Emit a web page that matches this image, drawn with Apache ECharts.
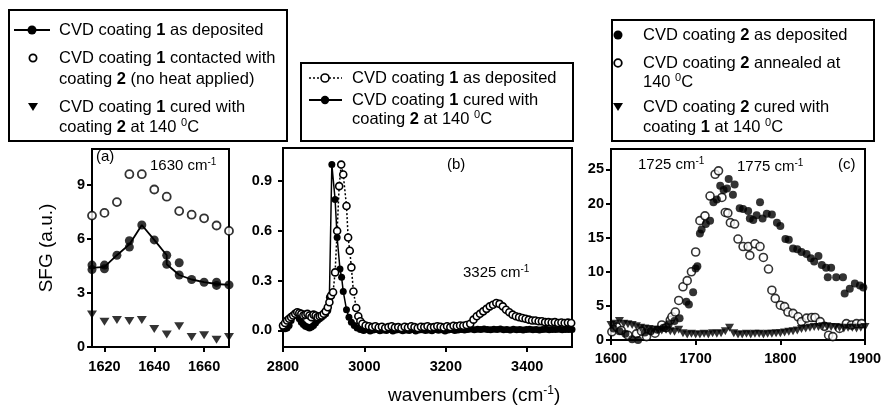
<!DOCTYPE html>
<html>
<head>
<meta charset="utf-8">
<script src="https://cdn.jsdelivr.net/npm/echarts@6.0.0/dist/echarts.min.js"></script>
<style>
  html, body { margin: 0; padding: 0; background: #fff; }
  #chart { width: 889px; height: 408px; }
</style>
</head>
<body>
<div id="chart"></div>
<script>
// ---------- panel (a): 1630 cm-1 band ----------
const aX        = [1615, 1620, 1625, 1630, 1635, 1640, 1645, 1650, 1655, 1660, 1665, 1670];
const aContact  = [7.3, 7.45, 8.05, 9.6, 9.6, 8.75, 8.35, 7.55, 7.35, 7.15, 6.75, 6.45];
const aCured    = [1.8, 1.4, 1.5, 1.45, 1.5, 1.0, 0.7, 1.15, 0.55, 0.65, 0.4, 0.55];
// as-deposited replicates and the connecting line
const aDepPtsX  = [1615, 1615, 1620, 1620, 1625, 1630, 1630, 1635, 1640, 1645, 1645, 1650, 1650, 1655, 1660, 1665, 1665, 1670];
const aDepPtsY  = [4.3, 4.55, 4.35, 4.55, 5.1, 5.55, 5.9, 6.78, 5.95, 5.1, 4.6, 4.68, 4.0, 3.75, 3.6, 3.42, 3.6, 3.45];
const aDepLineX = [1615, 1620, 1625, 1630, 1635, 1640, 1645, 1645, 1650, 1655, 1660, 1665, 1670];
const aDepLineY = [4.4, 4.45, 5.1, 5.7, 6.78, 5.95, 5.1, 4.6, 4.0, 3.75, 3.6, 3.5, 3.45];
const aXTicks = [1620, 1640, 1660];
const aYTicks = [0, 3, 6, 9];

// ---------- panel (b): C-H / N-H stretch region ----------
const bOpenX = [2800, 2805, 2810, 2815, 2820, 2825, 2830, 2835, 2840, 2845, 2850, 2855, 2860, 2865, 2870, 2875, 2880, 2885, 2890, 2895,
  2900, 2905, 2910, 2914, 2918, 2923, 2928, 2933, 2938, 2943, 2948, 2956, 2960, 2964, 2968, 2973, 2980, 2985, 2990, 2995,
  3003, 3011, 3019, 3027, 3035, 3043, 3051, 3059, 3067, 3075, 3083, 3091, 3099, 3107, 3115, 3123, 3131, 3139, 3147, 3155,
  3163, 3171, 3179, 3187, 3195, 3203, 3211, 3219, 3227, 3235, 3243, 3251, 3260, 3268, 3276, 3284, 3292, 3300, 3308, 3316,
  3324, 3332, 3340, 3348, 3356, 3364, 3372, 3380, 3388, 3396, 3404, 3412, 3420, 3428, 3436, 3444, 3452, 3460, 3468, 3476,
  3484, 3492, 3500, 3508];
const bOpenY = [0.03, 0.045, 0.06, 0.07, 0.08, 0.09, 0.1, 0.11, 0.105, 0.1, 0.09, 0.095, 0.1, 0.09, 0.08, 0.095, 0.09, 0.08, 0.085, 0.09,
  0.1, 0.115, 0.14, 0.17, 0.21, 0.23, 0.35, 0.6, 0.87, 1.0, 0.94, 0.75, 0.56, 0.48, 0.38, 0.235, 0.135, 0.085, 0.055, 0.04,
  0.03, 0.025, 0.02, 0.025, 0.018, 0.022, 0.015, 0.02, 0.025, 0.018, 0.02, 0.015, 0.022, 0.018, 0.025, 0.02, 0.015, 0.022, 0.02, 0.025,
  0.018, 0.02, 0.025, 0.022, 0.018, 0.025, 0.02, 0.028, 0.025, 0.03, 0.028, 0.033, 0.04, 0.065, 0.085, 0.1, 0.115, 0.13, 0.145, 0.155,
  0.165, 0.16, 0.145, 0.125, 0.11, 0.095, 0.085, 0.08, 0.075, 0.07, 0.065, 0.06, 0.06, 0.055, 0.055, 0.05, 0.05, 0.048, 0.05, 0.045,
  0.048, 0.045, 0.047, 0.045];
const bFillX = [2800, 2805, 2810, 2815, 2820, 2825, 2830, 2835, 2840, 2845, 2850, 2855, 2860, 2865, 2870, 2875, 2880, 2885, 2890, 2895,
  2900, 2905, 2910, 2914, 2920, 2928, 2933, 2940, 2944, 2948, 2956, 2962, 2968, 2975, 2982, 2990,
  2998, 3006, 3014, 3022, 3030, 3038, 3046, 3054, 3062, 3070, 3078, 3086, 3094, 3102, 3110, 3118, 3126, 3134, 3142, 3150,
  3158, 3166, 3174, 3182, 3190, 3198, 3206, 3214, 3222, 3230, 3238, 3246, 3254, 3262, 3270, 3278, 3286, 3294, 3302, 3310,
  3318, 3326, 3334, 3342, 3350, 3358, 3366, 3374, 3382, 3390, 3398, 3406, 3414, 3422, 3430, 3438, 3446, 3454, 3462, 3470,
  3478, 3486, 3494, 3502, 3510];
const bFillY = [0.02, 0.01, 0.015, 0.03, 0.06, 0.09, 0.105, 0.095, 0.07, 0.05, 0.035, 0.025, 0.02, 0.015, 0.02, 0.03, 0.045, 0.06, 0.07, 0.08,
  0.09, 0.1, 0.12, 0.2, 1.0, 0.79, 0.56, 0.37, 0.32, 0.235, 0.125, 0.08, 0.05, 0.03, 0.015, 0.005,
  0.0, 0.005, -0.003, 0.002, 0.006, -0.002, 0.003, 0.0, 0.005, -0.004, 0.002, 0.004, -0.002, 0.003, 0.0, 0.005, -0.003, 0.002, 0.004, 0.0,
  0.003, -0.002, 0.005, 0.001, 0.004, -0.003, 0.002, 0.005, 0.0, 0.003, 0.006, 0.002, 0.005, 0.008, 0.004, 0.007, 0.005, 0.008, 0.006, 0.004,
  0.007, 0.005, 0.008, 0.004, 0.006, 0.003, 0.007, 0.004, 0.006, 0.003, 0.005, 0.007, 0.004, 0.006, 0.003, 0.005, 0.007, 0.004, 0.006, 0.005,
  0.007, 0.004, 0.006, 0.005, 0.006];
const bXTicks = [2800, 3000, 3200, 3400];
const bYTicks = [0, 0.3, 0.6, 0.9];

// ---------- panel (c): carbonyl region ----------
const cDepX = [1603, 1610, 1617, 1625, 1632, 1640, 1647, 1655, 1662, 1668, 1675, 1681, 1689, 1692, 1697, 1700, 1702, 1705, 1707, 1712,
  1717, 1721, 1725, 1729, 1733, 1737, 1739, 1744, 1746, 1752, 1756, 1762, 1764, 1768, 1772, 1776, 1779, 1784, 1790, 1796,
  1800, 1806, 1810, 1815, 1820, 1825, 1831, 1836, 1840, 1845, 1849, 1854, 1860, 1856, 1866, 1874, 1876, 1882, 1888, 1894, 1898];
const cDepY = [1.7, 1.3, 0.9, 0.1, 0.0, 1.1, 1.3, 1.5, 1.8, 2.3, 2.8, 3.2, 5.6, 5.2, 7.0, 10.5, 10.8, 15.6, 16.2, 17.0,
  17.5, 20.2, 20.6, 22.6, 22.0, 22.2, 23.6, 21.3, 22.8, 19.3, 19.2, 18.9, 17.8, 17.6, 18.3, 20.2, 17.8, 18.5, 18.4, 17.2,
  16.7, 14.8, 14.7, 13.4, 13.3, 12.9, 12.6, 12.0, 11.5, 12.3, 11.0, 10.6, 10.6, 9.2, 9.2, 9.2, 6.8, 7.5, 8.3, 8.0, 7.7];
const cAnnX = [1601, 1607, 1612, 1620, 1630, 1636, 1642, 1652, 1660, 1665, 1670, 1672, 1676, 1680, 1685, 1690, 1695, 1700, 1705, 1711,
  1717, 1723, 1727, 1731, 1735, 1738, 1741, 1746, 1750, 1756, 1762, 1764, 1770, 1776, 1780, 1786, 1790, 1794, 1800, 1805,
  1809, 1815, 1821, 1825, 1831, 1837, 1841, 1847, 1852, 1857, 1862, 1870, 1878, 1884, 1890, 1896];
const cAnnY = [1.2, 1.9, 1.4, 0.7, 0.9, 1.3, 0.5, 1.0, 2.2, 1.8, 2.9, 3.4, 4.1, 5.8, 7.8, 8.7, 10.0, 12.9, 17.5, 18.2,
  21.1, 24.3, 24.8, 20.9, 18.7, 18.6, 17.2, 17.0, 14.8, 13.7, 13.7, 12.4, 14.1, 13.7, 12.1, 10.4, 7.3, 6.1, 5.1, 4.9,
  4.1, 3.9, 3.4, 2.7, 3.2, 3.3, 3.3, 2.7, 2.0, 0.7, 0.5, 1.7, 2.4, 2.2, 2.4, 2.4];
const cCurX = [1600, 1605, 1610, 1615, 1620, 1625, 1630, 1635, 1640, 1645, 1650, 1655, 1660, 1665, 1670, 1675, 1680, 1685, 1690, 1695,
  1700, 1705, 1710, 1715, 1720, 1725, 1730, 1735, 1740, 1745, 1750, 1755, 1760, 1765, 1770, 1775, 1780, 1785, 1790, 1795,
  1800, 1805, 1810, 1815, 1820, 1825, 1830, 1835, 1840, 1845, 1850, 1855, 1860, 1865, 1870, 1875, 1880, 1885, 1890, 1895, 1900];
const cCurY = [2.2, 2.4, 2.8, 2.4, 2.3, 2.2, 2.0, 1.8, 1.7, 1.6, 1.5, 1.5, 1.4, 1.5, 1.3, 1.2, 1.5, 1.0, 0.8, 0.9,
  0.8, 0.8, 0.9, 0.8, 1.0, 0.9, 1.0, 1.3, 1.8, 1.0, 0.8, 0.8, 0.9, 0.8, 0.9, 0.9, 0.8, 0.9, 0.9, 1.0,
  1.0, 1.1, 1.2, 1.3, 1.4, 1.6, 1.7, 1.8, 1.9, 1.9, 2.0, 2.0, 1.9, 1.9, 1.8, 1.7, 1.8, 1.8, 1.7, 1.8, 1.9];
const cXTicks = [1600, 1700, 1800, 1900];
const cYTicks = [0, 5, 10, 15, 20, 25];

// ---------- legend and annotation text ----------
const legendA = [
  '{n|CVD coating }{b|1}{n| as deposited}',
  '{n|CVD coating }{b|1}{n| contacted with}',
  '{n|coating }{b|2}{n| (no heat applied)}',
  '{n|CVD coating }{b|1}{n| cured with}',
  '{n|coating }{b|2}{n| at 140 }{s|0}{n|C}'
];
const legendB = [
  '{n|CVD coating }{b|1}{n| as deposited}',
  '{n|CVD coating }{b|1}{n| cured with}',
  '{n|coating }{b|2}{n| at 140 }{s|0}{n|C}'
];
const legendC = [
  '{n|CVD coating }{b|2}{n| as deposited}',
  '{n|CVD coating }{b|2}{n| annealed at}',
  '{n|140 }{s|0}{n|C}',
  '{n|CVD coating }{b|2}{n| cured with}',
  '{n|coating }{b|1}{n| at 140 }{s|0}{n|C}'
];

const FONT = '"Liberation Sans", Arial, Helvetica, sans-serif';
const zip = (xs, ys) => xs.map((x, i) => [x, ys[i]]);

const richLegend = {
  n: { fontSize: 16.5, fontFamily: FONT, color: '#000', lineHeight: 20 },
  b: { fontSize: 16.5, fontFamily: FONT, color: '#000', fontWeight: 'bold', lineHeight: 20 },
  s: { fontSize: 11, fontFamily: FONT, color: '#000', lineHeight: 12, verticalAlign: 'top' }
};
const richNote = {
  t: { fontSize: 15, fontFamily: FONT, color: '#000', lineHeight: 18 },
  s: { fontSize: 10, fontFamily: FONT, color: '#000', lineHeight: 10, verticalAlign: 'top' }
};

function textEl(x, y, text, rich) {
  return {
    type: 'text', x: x, y: y, silent: true,
    style: { text: text, rich: rich, align: 'left', verticalAlign: 'middle' }
  };
}

const tickFont = { color: '#000', fontSize: 14.5, fontFamily: FONT, fontWeight: 'bold' };

function xAxisOf(grid, min, max, ticks, margin) {
  return {
    type: 'value', gridIndex: grid, min: min, max: max,
    axisLine: { onZero: false, lineStyle: { color: '#000', width: 2 } },
    axisTick: { customValues: ticks, length: 5, lineStyle: { color: '#000', width: 2 } },
    axisLabel: Object.assign({ customValues: ticks, margin: margin, formatter: v => String(v) }, tickFont),
    splitLine: { show: false }
  };
}
function yAxisOf(grid, min, max, ticks, margin, fmt) {
  return {
    type: 'value', gridIndex: grid, min: min, max: max,
    axisLine: { onZero: false, lineStyle: { color: '#000', width: 2 } },
    axisTick: { customValues: ticks, length: 5, lineStyle: { color: '#000', width: 2 } },
    axisLabel: Object.assign({ customValues: ticks, margin: margin, formatter: fmt }, tickFont),
    splitLine: { show: false }
  };
}

const openStyle = { color: '#fff', borderColor: '#000', borderWidth: 1.8 };
const fillStyle = { color: '#000' };

const option = {
  animation: false,
  backgroundColor: '#fff',
  grid: [
    { left: 92, top: 149, width: 137, height: 198, show: true, borderColor: '#000', borderWidth: 2, backgroundColor: 'transparent' },
    { left: 283, top: 148, width: 289, height: 199, show: true, borderColor: '#000', borderWidth: 2, backgroundColor: 'transparent' },
    { left: 611, top: 149, width: 254, height: 191, show: true, borderColor: '#000', borderWidth: 2, backgroundColor: 'transparent' }
  ],
  xAxis: [
    xAxisOf(0, 1615, 1670, aXTicks, 12),
    xAxisOf(1, 2800, 3510, bXTicks, 12),
    xAxisOf(2, 1600, 1900, cXTicks, 11)
  ],
  yAxis: [
    Object.assign(yAxisOf(0, 0, 11, aYTicks, 7, v => String(v)), {
      name: 'SFG (a.u.)', nameLocation: 'middle', nameRotate: 90, nameGap: 36,
      nameTextStyle: { fontSize: 19, fontFamily: FONT, color: '#000' }
    }),
    yAxisOf(1, -0.1, 1.1, bYTicks, 11, v => v.toFixed(1)),
    yAxisOf(2, 0, 28, cYTicks, 7, v => String(v))
  ],
  series: [
    // (a)
    { type: 'line', xAxisIndex: 0, yAxisIndex: 0, data: zip(aDepLineX, aDepLineY), showSymbol: false,
      lineStyle: { color: '#000', width: 1.8 }, silent: true, z: 2 },
    { type: 'scatter', xAxisIndex: 0, yAxisIndex: 0, data: zip(aDepPtsX, aDepPtsY), symbol: 'circle', symbolSize: 9,
      itemStyle: fillStyle, z: 3 },
    { type: 'scatter', xAxisIndex: 0, yAxisIndex: 0, data: zip(aX, aContact), symbol: 'circle', symbolSize: 8,
      itemStyle: openStyle, z: 3 },
    { type: 'scatter', xAxisIndex: 0, yAxisIndex: 0, data: zip(aX, aCured), symbol: 'triangle', symbolRotate: 180,
      symbolSize: [10, 8], itemStyle: fillStyle, z: 3 },
    // (b)
    { type: 'line', xAxisIndex: 1, yAxisIndex: 1, data: zip(bFillX, bFillY), symbol: 'circle', symbolSize: 7,
      showSymbol: true, itemStyle: fillStyle, lineStyle: { color: '#000', width: 1.5 }, z: 2 },
    { type: 'line', xAxisIndex: 1, yAxisIndex: 1, data: zip(bOpenX, bOpenY), symbol: 'circle', symbolSize: 7,
      showSymbol: true, itemStyle: { color: '#fff', borderColor: '#000', borderWidth: 1.6 },
      lineStyle: { color: '#000', width: 1.5, type: [2, 2] }, z: 3 },
    // (c)
    { type: 'scatter', xAxisIndex: 2, yAxisIndex: 2, data: zip(cAnnX, cAnnY), symbol: 'circle', symbolSize: 8,
      itemStyle: { color: '#fff', borderColor: '#000', borderWidth: 1.6 }, z: 2 },
    { type: 'scatter', xAxisIndex: 2, yAxisIndex: 2, data: zip(cDepX, cDepY), symbol: 'circle', symbolSize: 8,
      itemStyle: fillStyle, z: 3 },
    { type: 'scatter', xAxisIndex: 2, yAxisIndex: 2, data: zip(cCurX, cCurY), symbol: 'triangle', symbolRotate: 180,
      symbolSize: [9, 8], itemStyle: fillStyle, z: 4 }
  ],
  graphic: []
};

// legend boxes
const boxStyle = { fill: 'none', stroke: '#000', lineWidth: 2 };
const g = option.graphic;
g.push({ type: 'rect', shape: { x: 9, y: 10, width: 278, height: 131 }, style: boxStyle, silent: true });
g.push({ type: 'rect', shape: { x: 301, y: 63, width: 272, height: 78 }, style: boxStyle, silent: true });
g.push({ type: 'rect', shape: { x: 612, y: 20, width: 262, height: 121 }, style: boxStyle, silent: true });

// legend (a) keys
g.push({ type: 'line', shape: { x1: 14, y1: 30, x2: 50, y2: 30 }, style: { stroke: '#000', lineWidth: 2 }, silent: true });
g.push({ type: 'circle', shape: { cx: 32, cy: 30, r: 4.5 }, style: { fill: '#000' }, silent: true });
g.push({ type: 'circle', shape: { cx: 33, cy: 58, r: 3.6 }, style: { fill: '#fff', stroke: '#000', lineWidth: 1.8 }, silent: true });
g.push({ type: 'polygon', shape: { points: [[28, 103], [38, 103], [33, 111]] }, style: { fill: '#000' }, silent: true });
[30, 58, 79, 107, 127].forEach((y, i) => g.push(textEl(59, y, legendA[i], richLegend)));

// legend (b) keys
g.push({ type: 'line', shape: { x1: 309, y1: 78, x2: 342, y2: 78 }, style: { stroke: '#000', lineWidth: 1.5, lineDash: [2, 2] }, silent: true });
g.push({ type: 'circle', shape: { cx: 325, cy: 78, r: 4 }, style: { fill: '#fff', stroke: '#000', lineWidth: 1.6 }, silent: true });
g.push({ type: 'line', shape: { x1: 309, y1: 100, x2: 342, y2: 100 }, style: { stroke: '#000', lineWidth: 2 }, silent: true });
g.push({ type: 'circle', shape: { cx: 325, cy: 100, r: 4.2 }, style: { fill: '#000' }, silent: true });
[78, 100, 119].forEach((y, i) => g.push(textEl(352, y, legendB[i], richLegend)));

// legend (c) keys
g.push({ type: 'circle', shape: { cx: 618, cy: 35, r: 4.5 }, style: { fill: '#000' }, silent: true });
g.push({ type: 'circle', shape: { cx: 618, cy: 63, r: 3.8 }, style: { fill: '#fff', stroke: '#000', lineWidth: 1.8 }, silent: true });
g.push({ type: 'polygon', shape: { points: [[613, 103], [623, 103], [618, 111]] }, style: { fill: '#000' }, silent: true });
[35, 63, 82, 107, 127].forEach((y, i) => g.push(textEl(643, y, legendC[i], richLegend)));

// panel labels and band annotations
g.push(textEl(96, 157, '{t|(a)}', richNote));
g.push(textEl(150, 166, '{t|1630 cm}{s|-1}', richNote));
g.push(textEl(447, 165, '{t|(b)}', richNote));
g.push(textEl(463, 273, '{t|3325 cm}{s|-1}', richNote));
g.push(textEl(638, 165, '{t|1725 cm}{s|-1}', richNote));
g.push(textEl(737, 167, '{t|1775 cm}{s|-1}', richNote));
g.push(textEl(838, 165, '{t|(c)}', richNote));

// shared x-axis title
g.push(textEl(388, 396, '{t|wavenumbers (cm}{s|-1}{t|)}', {
  t: { fontSize: 19, fontFamily: FONT, color: '#000', lineHeight: 22 },
  s: { fontSize: 12, fontFamily: FONT, color: '#000', lineHeight: 12, verticalAlign: 'top' }
}));

const chart = echarts.init(document.getElementById('chart'), null, { renderer: 'canvas' });
chart.setOption(option);
</script>
</body>
</html>
